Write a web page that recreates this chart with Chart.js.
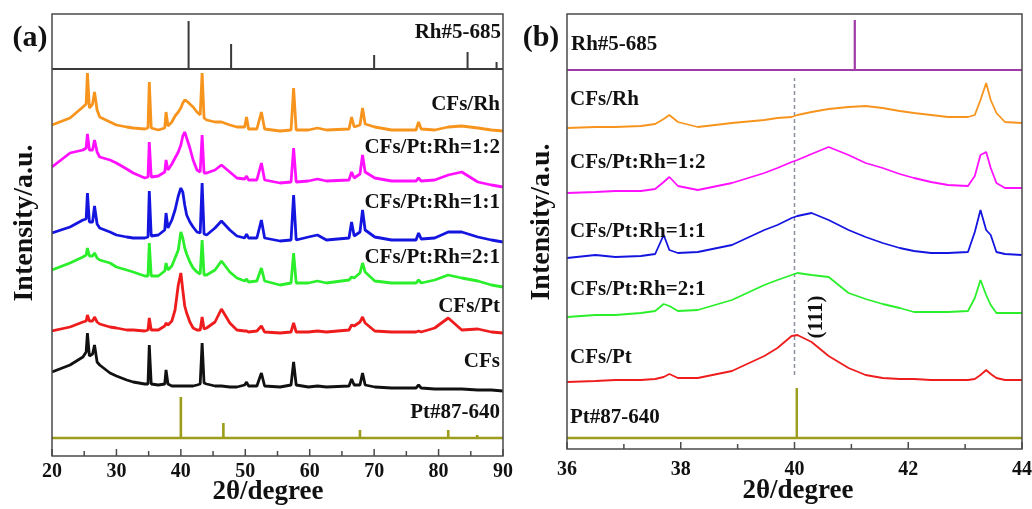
<!DOCTYPE html>
<html>
<head>
<meta charset="utf-8">
<script src="https://cdn.jsdelivr.net/npm/chart.js@4"></script>
<style>
  body { margin: 0; background: #fff; }
  #wrap { position: relative; width: 1032px; height: 509px; background: #fff; }
  canvas { position: absolute; top: 0; }
  #chartA { left: 0; }
  #chartB { left: 515px; }
</style>
</head>
<body>
<div id="wrap">
  <canvas id="chartA" width="515" height="509"></canvas>
  <canvas id="chartB" width="517" height="509"></canvas>
</div>
<script>
// ---------- Panel (a): wide scan 20-90 degrees ----------
const thetaA = [20, 22.8, 24.8, 25.3, 25.5, 25.8, 26.3, 26.6, 27.0, 27.4, 29, 30, 31.6, 32.6, 34.4, 34.9, 35.1, 35.4,
    36.5, 37.5, 37.7, 38.0, 38.6, 39.1, 39.6, 40.0, 40.3, 40.6, 40.9, 41.4, 41.9, 42.5, 43.0, 43.3, 43.6, 44.0,
    45.3, 46.3, 47.6, 48.7, 49.9, 50.2, 50.5, 51.8, 52.5, 53.0, 55.4, 57.1, 57.5, 57.9, 59.8, 61.2, 62.6,
    66.1, 66.5, 66.9, 67.8, 68.2, 68.6, 70.1, 72.7, 76.5, 76.9, 77.3, 79.4, 81.5, 83.6, 86.1, 88.2, 90];

const cfsRhA = [6, 13, 24, 27, 58, 23, 27, 39, 21, 14, 9, 6, 4, 3, 2, 3, 49, 3,
    1, 3, 19, 5, 9, 15, 19, 23, 28, 31, 30, 27, 24, 19, 16, 58, 13, 11,
    9, 9, 6, 4, 4, 14, 2, 2, 19, 2, 0, 1, 43, 1, 1, 3, 1,
    2, 14, 4, 6, 23, 7, 4, 1, 1, 9, 2, 1, 4, 5, 3, 1, 0];
const pt12A = [19, 33, 36, 38, 52, 36, 36, 46, 34, 29, 26, 23, 17, 13, 8, 9, 44, 9,
    10, 14, 26, 16, 22, 28, 34, 41, 50, 54, 48, 38, 26, 16, 14, 51, 13, 13,
    16, 21, 14, 8, 7, 10, 6, 6, 23, 6, 3, 4, 38, 4, 5, 7, 5,
    6, 14, 8, 12, 31, 14, 8, 5, 5, 8, 5, 6, 11, 14, 4, 1, -1];
const pt11A = [9, 15, 22, 23, 49, 20, 20, 36, 18, 14, 10, 7, 5, 4, 4, 5, 51, 6,
    7, 12, 29, 14, 22, 32, 46, 54, 50, 37, 27, 20, 15, 10, 9, 59, 8, 7,
    14, 21, 12, 6, 4, 8, 4, 4, 22, 4, 1, 2, 47, 2, 5, 7, 2,
    4, 20, 6, 10, 32, 12, 5, 2, 2, 9, 3, 4, 10, 10, 5, 2, 0];
const pt21A = [16, 23, 29, 31, 38, 30, 30, 33, 28, 26, 23, 19, 16, 14, 10, 10, 43, 10,
    10, 15, 23, 16, 20, 28, 36, 54, 48, 38, 32, 24, 18, 14, 12, 46, 11, 11,
    16, 25, 14, 8, 5, 7, 4, 5, 18, 5, 1, 3, 33, 3, 3, 5, 3,
    6, 9, 8, 13, 23, 14, 5, 3, 3, 6, 3, 6, 11, 8, 5, 1, -1];
const cfsPtA = [2, 6, 11, 12, 18, 12, 12, 16, 11, 9, 6, 5, 3, 3, 2, 3, 15, 3,
    3, 7, 10, 8, 12, 23, 48, 60, 43, 27, 20, 11, 5, 3, 3, 16, 4, 5,
    11, 24, 10, 3, 2, 2, 1, 2, 7, 1, 0, 1, 10, 1, 1, 2, 1,
    3, 8, 7, 11, 16, 10, 2, 1, 1, 2, 1, 5, 15, 3, 4, 1, 0];
const cfsA = [19, 26, 34, 39, 58, 35, 37, 46, 29, 26, 18, 15, 11, 9, 7, 7, 46, 7,
    6, 7, 21, 7, 5, 5, 5, 5, 5, 5, 5, 5, 5, 6, 7, 48, 8, 7,
    5, 5, 4, 4, 6, 9, 5, 5, 18, 5, 4, 6, 29, 6, 4, 5, 4,
    5, 12, 6, 6, 18, 6, 4, 3, 3, 6, 3, 2, 2, 2, 1, 1, 0];

// vertical stacking offsets (same order as the series list below)
const stackA = [325, 270, 214, 170, 123, 65];

// reference patterns (JCPDS cards)
const rhPeaksA = [41.2, 47.8, 70.0, 84.5, 89.0];
const rhHeightsA = [48, 25, 14, 17, 7];
const rhBaseA = 387;
const ptPeaksA = [40.0, 46.6, 67.8, 81.5, 86.0];
const ptHeightsA = [41, 15, 8, 8, 3];
const ptBaseA = 18;

// ---------- Panel (b): zoom 36-44 degrees ----------
const thetaB = [36.0, 36.5, 36.85, 37.3, 37.55, 37.7, 37.8, 37.95, 38.3, 38.9, 39.47, 39.7, 39.95, 40.05, 40.3,
    40.6, 40.95, 41.25, 41.55, 41.85, 42.1, 42.4, 42.7, 43.05, 43.17, 43.27, 43.37, 43.45, 43.55, 43.7, 44.0];

const cfsRhB = [0, 1, 1, 2, 4, 9, 13, 6, 1, 5, 8, 10, 11, 13, 16, 19, 21, 22, 20, 17, 15, 13, 11, 11, 13, 28, 45, 28, 15, 6, 5];
const pt12B = [0, 1, 2, 2, 4, 11, 16, 7, 3, 10, 20, 25, 31, 33, 39, 46, 38, 30, 25, 19, 15, 11, 8, 7, 17, 38, 41, 25, 10, 5, 5];
const pt11B = [0, 3, 1, 2, 4, 23, 8, 5, 6, 13, 28, 33, 40, 42, 45, 38, 28, 21, 15, 10, 7, 5, 5, 6, 26, 48, 28, 23, 6, 4, 3];
const pt21B = [0, 2, 2, 4, 6, 13, 11, 6, 7, 17, 32, 37, 42, 44, 42, 40, 24, 18, 13, 9, 5, 5, 5, 6, 19, 37, 22, 12, 4, 4, 4];
const cfsPtB = [0, 1, 2, 2, 3, 5, 8, 4, 4, 11, 26, 34, 46, 47, 40, 26, 14, 7, 4, 3, 3, 2, 2, 2, 3, 7, 12, 8, 4, 2, 2];

const stackB = [321, 256, 191, 132, 67];

const rhPeaksB = [41.06];
const rhHeightsB = [50];
const rhBaseB = 379;
const ptPeaksB = [40.04];
const ptHeightsB = [50];
const ptBaseB = 11;
const pt111 = 40.0;      // dashed guide at Pt (111)
const guideRangeB = [74, 371];

const seriesNames = ["CFs/Rh", "CFs/Pt:Rh=1:2", "CFs/Pt:Rh=1:1", "CFs/Pt:Rh=2:1", "CFs/Pt", "CFs"];
const seriesColors = ["#f7941d", "#ff10ff", "#1515e0", "#2bef2b", "#ee1c1c", "#111111"];

const FONT = '"Liberation Serif", "Times New Roman", serif';

// turn a stick pattern into one polyline along its baseline
function stickLine(peaks, heights, base, xmin, xmax) {
    const pts = [{ x: xmin, y: base }];
    peaks.forEach((p, i) => {
        pts.push({ x: p, y: base }, { x: p, y: base + heights[i] }, { x: p, y: base });
    });
    pts.push({ x: xmax, y: base });
    return pts;
}

function curve(theta, vals, off) {
    return theta.map((t, i) => ({ x: t, y: vals[i] + off }));
}

// frame, inward ticks and all the text labels
function decorPlugin(cfg) {
    return {
        id: "decor",
        afterDraw(chart) {
            const { ctx, chartArea: a } = chart;
            const xs = chart.scales.x;
            ctx.save();
            ctx.strokeStyle = "#4a4a4a";
            ctx.lineWidth = 1.5;
            ctx.strokeRect(a.left, a.top, a.right - a.left, a.bottom - a.top);
            // inward tick marks
            xs.ticks.forEach((t) => {
                const px = xs.getPixelForValue(t.value);
                const len = t.label !== "" ? 7 : 5;
                ctx.beginPath();
                ctx.moveTo(px, a.bottom);
                ctx.lineTo(px, a.bottom - len);
                ctx.stroke();
            });
            ctx.fillStyle = "#111";
            // panel letter
            ctx.font = "bold 30px " + FONT;
            ctx.textAlign = "center";
            ctx.textBaseline = "middle";
            ctx.fillText(cfg.letter[0], cfg.letter[1], cfg.letter[2]);
            // series labels
            ctx.font = "bold 21px " + FONT;
            ctx.textAlign = cfg.align;
            cfg.labels.forEach(([txt, x, y]) => ctx.fillText(txt, x, y));
            // axis titles
            ctx.font = "bold 27px " + FONT;
            ctx.textAlign = "center";
            ctx.textBaseline = "alphabetic";
            ctx.fillText("2θ/degree", cfg.xTitle[0], cfg.xTitle[1]);
            ctx.save();
            ctx.translate(cfg.yTitle[0], cfg.yTitle[1]);
            ctx.rotate(-Math.PI / 2);
            ctx.font = "bold 28px " + FONT;
            ctx.textBaseline = "middle";
            ctx.fillText("Intensity/a.u.", 0, 0);
            ctx.restore();
            if (cfg.extra) cfg.extra(ctx);
            ctx.restore();
        }
    };
}

function makeChart(id, cfg) {
    const ctx = document.getElementById(id).getContext("2d");
    return new Chart(ctx, {
        type: "line",
        data: { datasets: cfg.datasets },
        options: {
            responsive: false,
            animation: false,
            devicePixelRatio: 1,
            layout: { padding: cfg.padding },
            plugins: { legend: { display: false }, tooltip: { enabled: false } },
            elements: { point: { radius: 0 }, line: { tension: 0, borderJoinStyle: "bevel" } },
            scales: {
                x: {
                    type: "linear",
                    min: cfg.xmin, max: cfg.xmax,
                    grid: { display: false, drawTicks: false },
                    border: { display: false },
                    afterFit: (s) => {
                        s.height = cfg.xHeight;
                        // labels may hang past the frame, don't shrink the plot for them
                        s.paddingLeft = 0;
                        s.paddingRight = 0;
                    },
                    ticks: {
                        stepSize: cfg.step,
                        autoSkip: false,
                        maxRotation: 0,
                        padding: cfg.tickPad,
                        color: "#111",
                        font: { family: FONT, size: 20, weight: "bold" },
                        callback: (v) => (v % cfg.labelEvery === 0 ? v : "")
                    }
                },
                y: { display: false, min: 0, max: cfg.ymax }
            }
        },
        plugins: [decorPlugin(cfg)]
    });
}

// ----- build panel (a)
const valsA = [cfsRhA, pt12A, pt11A, pt21A, cfsPtA, cfsA];
const dsA = valsA.map((v, i) => ({
    data: curve(thetaA, v, stackA[i]),
    borderColor: seriesColors[i],
    borderWidth: 2.8
}));
dsA.push({ data: stickLine(rhPeaksA, rhHeightsA, rhBaseA, 20, 90), borderColor: "#3a3a3a", borderWidth: 2 });
dsA.push({ data: stickLine(ptPeaksA, ptHeightsA, ptBaseA, 20, 90), borderColor: "#9d9d1c", borderWidth: 2.6 });

makeChart("chartA", {
    datasets: dsA,
    padding: { left: 52, right: 12, top: 14, bottom: 0 },
    xmin: 20, xmax: 90, step: 5, labelEvery: 10,
    xHeight: 53, tickPad: 4, ymax: 442,
    letter: ["(a)", 30, 38],
    align: "right",
    labels: [["Rh#5-685", 501, 33], ["CFs/Rh", 500, 105], ["CFs/Pt:Rh=1:2", 500, 148], ["CFs/Pt:Rh=1:1", 500, 203],
        ["CFs/Pt:Rh=2:1", 500, 258], ["CFs/Pt", 500, 307], ["CFs", 500, 362], ["Pt#87-640", 500, 413]],
    xTitle: [268, 499],
    yTitle: [25, 223]
});

// ----- build panel (b)
const valsB = [cfsRhB, pt12B, pt11B, pt21B, cfsPtB];
const dsB = valsB.map((v, i) => ({
    data: curve(thetaB, v, stackB[i]),
    borderColor: seriesColors[i],
    borderWidth: 1.8
}));
dsB.push({ data: [{ x: pt111, y: guideRangeB[0] }, { x: pt111, y: guideRangeB[1] }], borderColor: "#8a90a0", borderWidth: 1.5, borderDash: [4, 3] });
dsB.push({ data: stickLine(rhPeaksB, rhHeightsB, rhBaseB, 36, 44), borderColor: "#a03aa6", borderWidth: 2.2 });
dsB.push({ data: stickLine(ptPeaksB, ptHeightsB, ptBaseB, 36, 44), borderColor: "#9d9d1c", borderWidth: 2.4 });

makeChart("chartB", {
    datasets: dsB,
    padding: { left: 52, right: 10, top: 14, bottom: 0 },
    xmin: 36, xmax: 44, step: 1, labelEvery: 2,
    xHeight: 60, tickPad: 9, ymax: 435,
    letter: ["(b)", 26, 38],
    align: "left",
    labels: [["Rh#5-685", 56, 45], ["CFs/Rh", 55, 100], ["CFs/Pt:Rh=1:2", 55, 163], ["CFs/Pt:Rh=1:1", 55, 232],
        ["CFs/Pt:Rh=2:1", 55, 290], ["CFs/Pt", 55, 358], ["Pt#87-640", 55, 418]],
    xTitle: [283, 498],
    yTitle: [27, 222],
    extra: (ctx) => {
        ctx.save();
        ctx.translate(302, 317);
        ctx.rotate(-Math.PI / 2);
        ctx.font = "bold 21px " + FONT;
        ctx.textAlign = "center";
        ctx.textBaseline = "middle";
        ctx.fillText("(111)", 0, 0);
        ctx.restore();
    }
});
</script>
</body>
</html>
